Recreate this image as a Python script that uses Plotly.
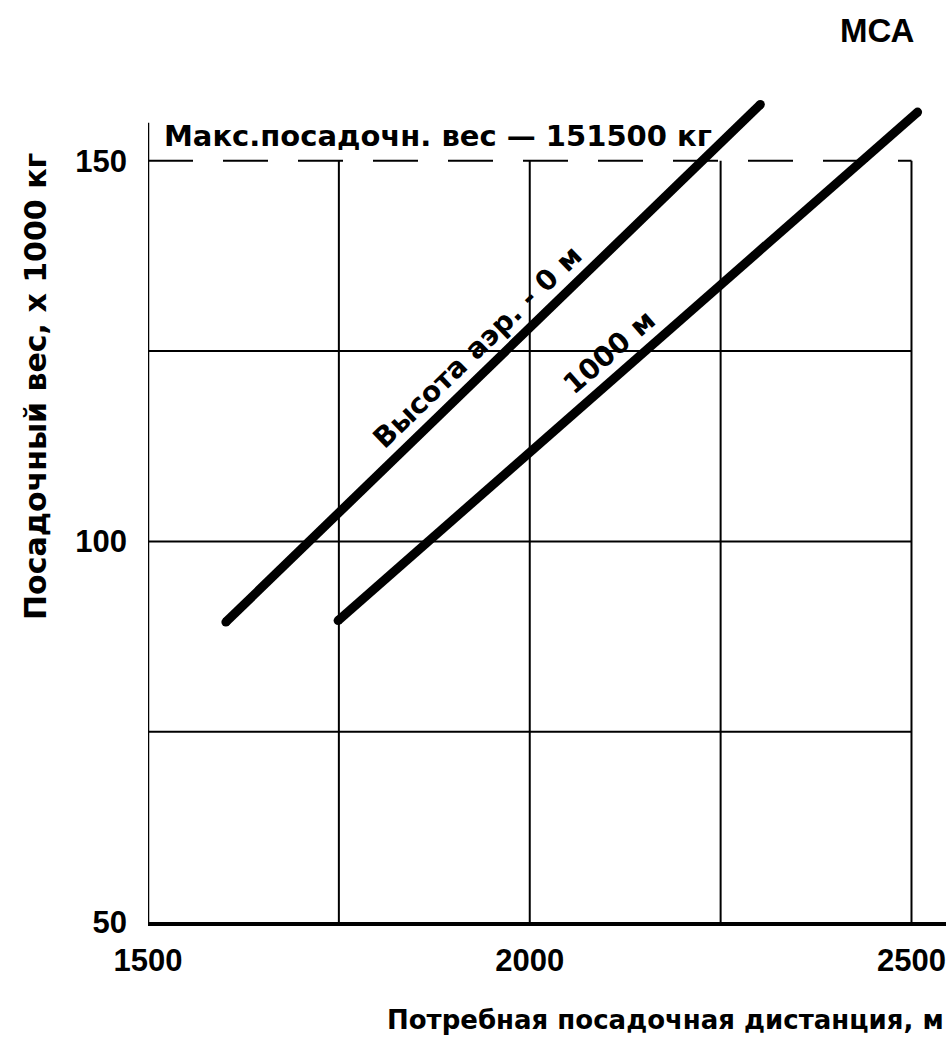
import plotly.graph_objects as go

# ---- data ----
alt0_x = [1602, 2302]          # Высота аэр. - 0 м
alt0_y = [89.4, 157.4]
alt1000_x = [1749, 2508]       # 1000 м
alt1000_y = [89.6, 156.4]

x_grid = [1750, 2000, 2250, 2500]
y_grid = [75, 100, 125]
max_weight = 150               # dashed line "Макс.посадочн. вес"
x_ticks = [1500, 2000, 2500]
y_ticks = [50, 100, 150]

X0, X1 = 1500, 2500
Y0 = 50

TICKFONT = dict(family="Liberation Sans", size=31, color="black", weight="bold")
LBLFONT = dict(family="DejaVu Sans", size=28, color="black", weight="bold")

fig = go.Figure()

for xs, ys in [(alt0_x, alt0_y), (alt1000_x, alt1000_y)]:
    fig.add_trace(go.Scatter(
        x=xs, y=ys, mode="lines+markers",
        line=dict(color="black", width=9),
        marker=dict(color="black", size=9),
        showlegend=False, hoverinfo="skip"))

shapes = []
for gx in x_grid:
    shapes.append(dict(type="line", xref="x", yref="y", x0=gx, x1=gx, y0=Y0, y1=max_weight,
                       line=dict(color="black", width=2), layer="below"))
for gy in y_grid:
    shapes.append(dict(type="line", xref="x", yref="y", x0=X0, x1=X1, y0=gy, y1=gy,
                       line=dict(color="black", width=2), layer="below"))
shapes.append(dict(type="line", xref="x", yref="y", x0=X0, x1=X1, y0=max_weight, y1=max_weight,
                   line=dict(color="black", width=2, dash="45px,30px"), layer="below"))
# left axis line
shapes.append(dict(type="line", xref="x", yref="y", x0=X0, x1=X0, y0=Y0 - 1, y1=155.0,
                   line=dict(color="black", width=2.5)))

annotations = [
    dict(text="Макс.посадочн. вес — 151500 кг", xref="x", yref="y", x=1518, y=153.3,
         xanchor="left", yanchor="middle", showarrow=False,
         font=dict(family="DejaVu Sans", size=29, color="black", weight="bold")),
    dict(text="Высота аэр. - 0 м", xref="x", yref="y", x=1932, y=125.6,
         textangle=-44, showarrow=False, font=LBLFONT),
    dict(text="1000 м", xref="x", yref="y", x=2105, y=124.9,
         textangle=-41, showarrow=False, font=LBLFONT),
    dict(text="МСА", xref="paper", yref="paper", x=0.9135, y=1.071,
         xanchor="center", yanchor="middle", showarrow=False,
         font=dict(family="Liberation Sans", size=33, color="black", weight="bold")),
    dict(text="Посадочный вес, х 1000 кг", xref="paper", yref="paper", x=-0.1416, y=0.643,
         textangle=-90, xanchor="center", yanchor="middle", showarrow=False,
         font=dict(family="DejaVu Sans", size=30, color="black", weight="bold")),
    dict(text="Потребная посадочная дистанция, м", xref="paper", yref="paper", x=1.0, y=-0.118,
         xanchor="right", yanchor="middle", showarrow=False,
         font=dict(family="DejaVu Sans", size=26, color="black", weight="bold")),
]

fig.update_layout(
    width=946, height=1051,
    margin=dict(l=148, r=0, t=90, b=129, pad=0),
    paper_bgcolor="white", plot_bgcolor="white",
    shapes=shapes, annotations=annotations,
    xaxis=dict(range=[1500, 2545.2], showgrid=False, zeroline=False,
               showline=True, linecolor="black", linewidth=4,
               tickvals=x_ticks, ticktext=[str(v) for v in x_ticks],
               ticks="", ticklabelstandoff=8, tickfont=TICKFONT),
    yaxis=dict(range=[50, 159.3], showgrid=False, zeroline=False, showline=False,
               tickvals=y_ticks, ticktext=[str(v) for v in y_ticks],
               ticks="", ticklabelstandoff=20, tickfont=TICKFONT),
)

# remove the default 8px body margin so the figure fills the window exactly
fig.write_html("out.html",
               config={"displayModeBar": False},
               post_script="document.body.style.margin='0';document.body.style.overflow='hidden';")
